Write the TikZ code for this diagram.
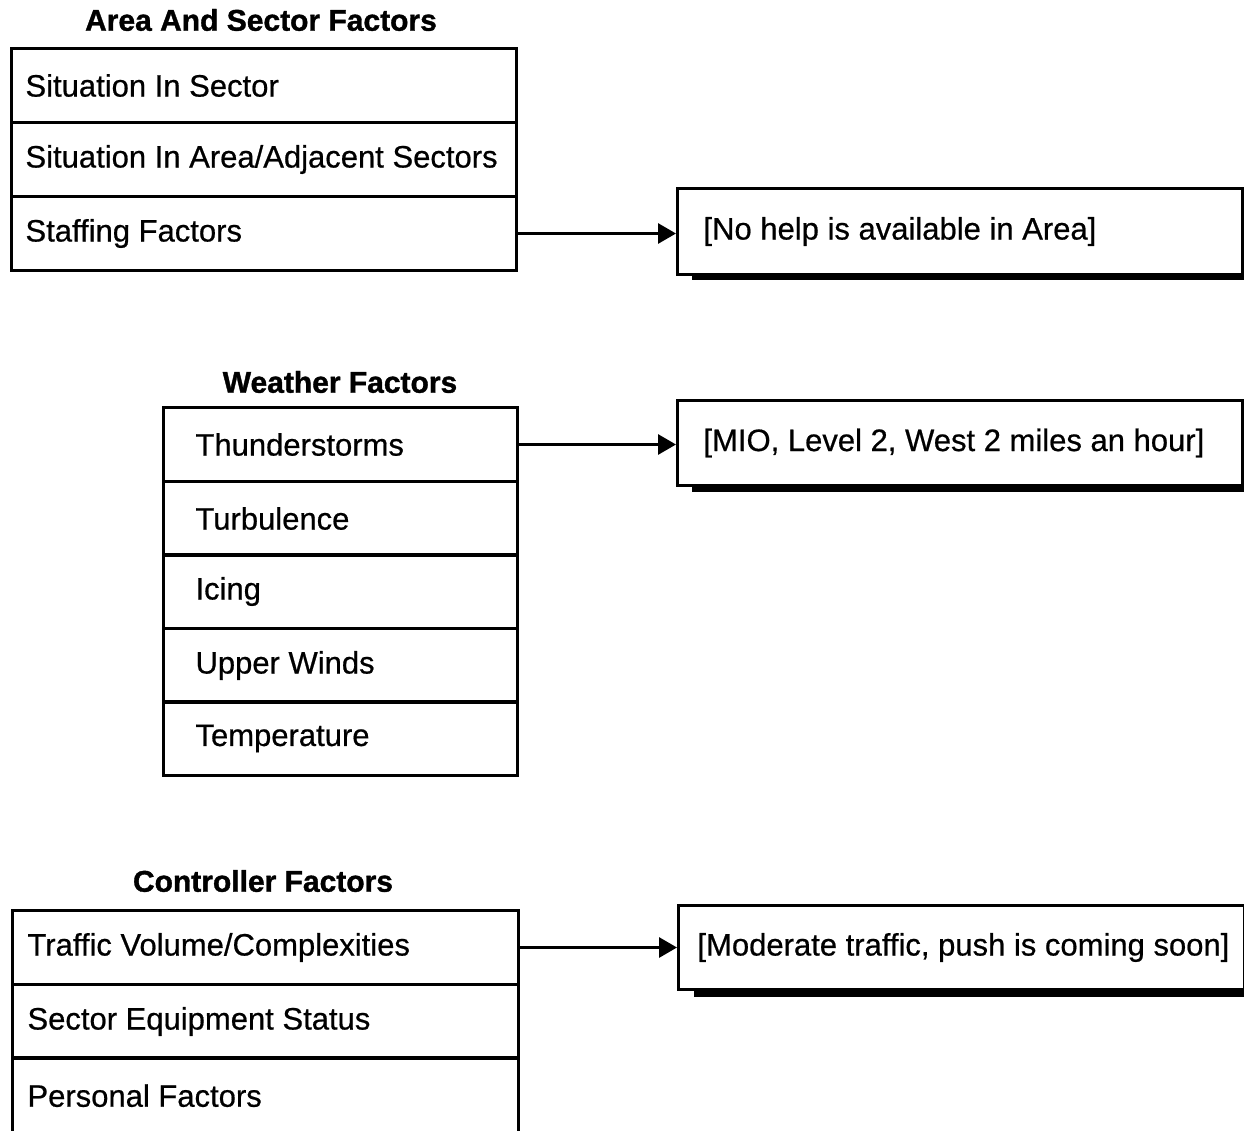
\documentclass[tikz,border=0pt]{standalone}
\usepackage{fontspec}
\setmainfont{Liberation Sans}
\newfontfamily\rowfont[FakeBold=0.6]{Liberation Sans}
\newfontfamily\headfont[FakeBold=1.2]{Liberation Sans Bold}
\usetikzlibrary{arrows.meta}
\tikzset{
  x=1pt,y=-1pt,
  rowbox/.style={draw, line width=3pt, minimum height=74pt, anchor=north west, inner sep=0pt, font=\rowfont\fontsize{31}{33}\selectfont},
  titletext/.style={font=\headfont\fontsize{30}{32}\selectfont},
  sidebox/.style={draw, fill=white, line width=3pt, anchor=north west, inner sep=0pt, font=\rowfont\fontsize{31}{33}\selectfont},
  link/.style={line width=3pt, -{Triangle[length=18pt,width=20pt]}},
}
\newcommand{\rowtxt}[3]{\makebox[#1][l]{\hspace*{#2}#3}}
\begin{document}
\begin{tikzpicture}
\useasboundingbox (0,0) rectangle (1244,1130);
% ---------- Group 1
\node[titletext] (t1) at (261,20) {Area And Sector Factors};
\node[rowbox, minimum width=505pt] (a1) at (10,47) {\rowtxt{505pt}{14pt}{Situation In Sector}};
\node[rowbox, minimum width=505pt] (a2) at (10,121) {\rowtxt{505pt}{14pt}{Situation In Area/Adjacent Sectors}};
\node[rowbox, minimum width=505pt] (a3) at (10,195) {\rowtxt{505pt}{14pt}{Staffing Factors}};
\fill (692,268) rectangle (1244,280);
\node[sidebox, minimum width=565pt, minimum height=86pt] (s1) at (676,187) {\rowtxt{565pt}{26pt}{[No help is available in Area]}};
\draw[link] (a3.east) -- (s1.west |- a3.east);
% ---------- Group 2
\node[titletext] (t2) at (340,382) {Weather Factors};
\node[rowbox, minimum width=354pt] (w1) at (162,406) {\rowtxt{354pt}{32pt}{Thunderstorms}};
\node[rowbox, minimum width=354pt] (w2) at (162,480) {\rowtxt{354pt}{32pt}{Turbulence}};
\node[rowbox, minimum width=354pt] (w3) at (162,553) {\rowtxt{354pt}{32pt}{Icing}};
\node[rowbox, minimum width=354pt] (w4) at (162,627) {\rowtxt{354pt}{32pt}{Upper Winds}};
\node[rowbox, minimum width=354pt] (w5) at (162,700) {\rowtxt{354pt}{32pt}{Temperature}};
\fill (692,480) rectangle (1244,492);
\node[sidebox, minimum width=565pt, minimum height=85pt] (s2) at (676,399) {\rowtxt{565pt}{26pt}{[MIO, Level 2, West 2 miles an hour]}};
\draw[link] (w1.east) -- (s2.west |- w1.east);
% ---------- Group 3
\node[titletext] (t3) at (263,881) {Controller Factors};
\node[rowbox, minimum width=506pt] (c1) at (11,909) {\rowtxt{506pt}{15pt}{Traffic Volume/Complexities}};
\node[rowbox, minimum width=506pt] (c2) at (11,983) {\rowtxt{506pt}{15pt}{Sector Equipment Status}};
\node[rowbox, minimum width=506pt, minimum height=80pt] (c3) at (11,1056) {\rowtxt{506pt}{15pt}{\raisebox{4pt}{Personal Factors}}};
\fill (694,984) rectangle (1245,997);
\node[sidebox, minimum width=566pt, minimum height=84pt] (s3) at (677,904) {\rowtxt{566pt}{19pt}{[Moderate traffic, push is coming soon]}};
\draw[link] (c1.east) -- (s3.west |- c1.east);
\end{tikzpicture}
\end{document}
